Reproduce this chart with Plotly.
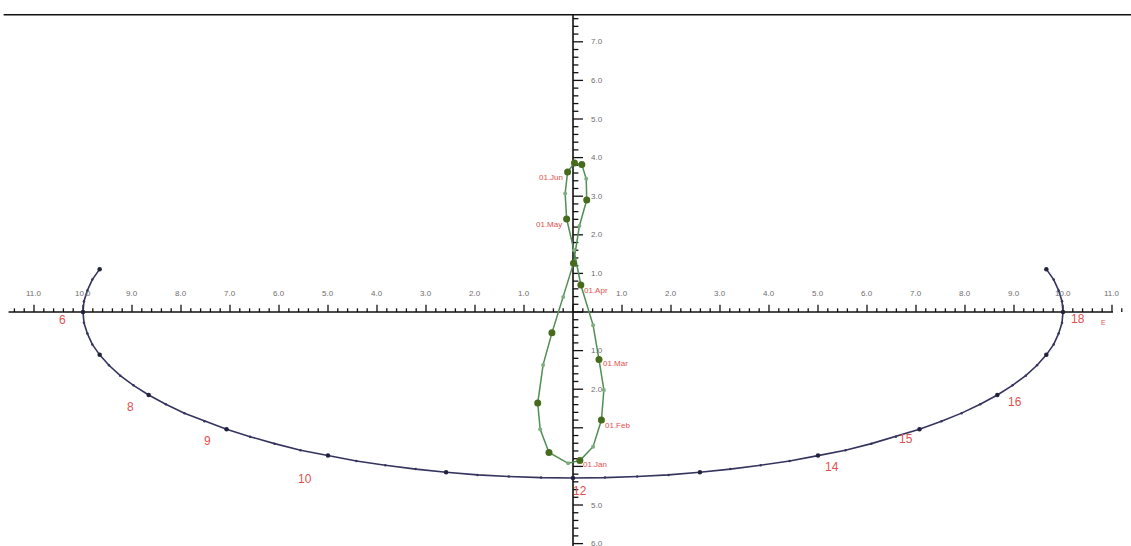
import plotly.graph_objects as go

# ---- shadow-tip path over the day, sampled every quarter hour (05:00 .. 19:00)
curve_x = [-9.66, -9.81, -9.91, -9.98, -10.0, -9.98, -9.91, -9.81, -9.66, -9.47, -9.24, -8.97,
           -8.66, -8.31, -7.93, -7.52, -7.07, -6.59, -6.09, -5.56, -5.0, -4.42, -3.83, -3.21,
           -2.59, -1.95, -1.31, -0.65, 0.0, 0.65, 1.31, 1.95, 2.59, 3.21, 3.83, 4.42,
           5.0, 5.56, 6.09, 6.59, 7.07, 7.52, 7.93, 8.31, 8.66, 8.97, 9.24, 9.47,
           9.66, 9.81, 9.91, 9.98, 10.0, 9.98, 9.91, 9.81, 9.66]
curve_y = [1.11, 0.84, 0.56, 0.28, 0.0, -0.28, -0.56, -0.84, -1.11, -1.38, -1.65, -1.90,
           -2.15, -2.39, -2.62, -2.83, -3.04, -3.23, -3.41, -3.58, -3.72, -3.86, -3.97, -4.07,
           -4.15, -4.22, -4.26, -4.29, -4.30, -4.29, -4.26, -4.22, -4.15, -4.07, -3.97, -3.86,
           -3.72, -3.58, -3.41, -3.23, -3.04, -2.83, -2.62, -2.39, -2.15, -1.90, -1.65, -1.38,
           -1.11, -0.84, -0.56, -0.28, 0.0, 0.28, 0.56, 0.84, 1.11]

# hour numbers written beside the path
hour_labels = ["6", "8", "9", "10", "12", "14", "15", "16", "18"]
hour_label_x = [-10.41, -9.04, -7.45, -5.47, 0.14, 5.29, 6.80, 9.02, 10.31]
hour_label_y = [-0.21, -2.46, -3.34, -4.33, -4.64, -4.02, -3.29, -2.33, -0.18]

# ---- noon analemma, 1st and mid-month positions
ana_dates = ["01.Jan", "15.Jan", "01.Feb", "15.Feb", "01.Mar", "15.Mar", "01.Apr", "15.Apr",
             "01.May", "15.May", "01.Jun", "21.Jun", "01.Jul", "15.Jul", "01.Aug", "15.Aug",
             "01.Sep", "15.Sep", "01.Oct", "15.Oct", "01.Nov", "15.Nov", "01.Dec", "15.Dec",
             "01.Jan"]
ana_x = [0.14, 0.41, 0.58, 0.63, 0.53, 0.41, 0.16, 0.02,
         -0.13, -0.16, -0.11, 0.03, 0.18, 0.27, 0.28, 0.13,
         0.01, -0.20, -0.43, -0.61, -0.72, -0.67, -0.49, -0.10,
         0.14]
ana_y = [-3.85, -3.49, -2.80, -2.02, -1.23, -0.34, 0.70, 1.60,
         2.41, 3.07, 3.63, 3.86, 3.82, 3.45, 2.90, 2.23,
         1.26, 0.39, -0.54, -1.37, -2.36, -3.04, -3.64, -3.92,
         -3.85]
ana_big = ["01.Jan", "01.Feb", "01.Mar", "01.Apr", "01.May", "01.Jun", "21.Jun", "01.Jul",
           "01.Aug", "01.Sep", "01.Oct", "01.Nov", "01.Dec"]

# month captions
month_labels = ["01.Jan", "01.Feb", "01.Mar", "01.Apr", "01.May", "01.Jun"]
month_label_x = [0.45, 0.90, 0.86, 0.47, -0.49, -0.45]
month_label_y = [-3.96, -2.95, -1.34, 0.55, 2.28, 3.48]

# ---- scale labels
xtick_vals = [-11, -10, -9, -8, -7, -6, -5, -4, -3, -2, -1, 1, 2, 3, 4, 5, 6, 7, 8, 9, 10, 11]
xtick_text = ["11.0", "10.0", "9.0", "8.0", "7.0", "6.0", "5.0", "4.0", "3.0", "2.0", "1.0",
              "1.0", "2.0", "3.0", "4.0", "5.0", "6.0", "7.0", "8.0", "9.0", "10.0", "11.0"]
ytick_vals = [7, 6, 5, 4, 3, 2, 1, -1, -2, -5, -6]
ytick_text = ["7.0", "6.0", "5.0", "4.0", "3.0", "2.0", "1.0", "1.0", "2.0", "5.0", "6.0"]

X_RANGE = [-11.694, 11.388]
Y_RANGE = [-6.062, 8.083]
TOP_Y = 7.7

AXIS_COLOR = "#111111"
TICK_FONT = dict(family="Liberation Sans, Arial, sans-serif", size=8, color="#6e6e6e")
RED = "#e2504e"
CURVE_COLOR = "#34345f"
GREEN_LINE = "#4f8f52"
GREEN_DOT = "#476b1c"

fig = go.Figure()

# top border line and main axes
fig.add_trace(go.Scatter(x=[-11.62, X_RANGE[1]], y=[TOP_Y, TOP_Y], mode="lines",
                         line=dict(color=AXIS_COLOR, width=1.6), hoverinfo="skip"))
fig.add_trace(go.Scatter(x=[-11.52, 11.02], y=[0, 0], mode="lines",
                         line=dict(color=AXIS_COLOR, width=1.6), hoverinfo="skip"))
fig.add_trace(go.Scatter(x=[0, 0], y=[TOP_Y, Y_RANGE[0] - 0.2], mode="lines",
                         line=dict(color=AXIS_COLOR, width=1.6), hoverinfo="skip"))

# tick marks: horizontal scale ticks point up, vertical scale ticks point right
tx, ty = [], []
for i in range(-57, 57):
    v = i * 0.2
    major = (i % 5 == 0)
    h = 0.185 if major else 0.095
    tx += [v, v, None]
    ty += [0, h, None]
for i in range(-30, 39):
    v = i * 0.2
    if v > TOP_Y:
        continue
    major = (i % 5 == 0)
    w = 0.205 if major else 0.11
    tx += [0, w, None]
    ty += [v, v, None]
fig.add_trace(go.Scatter(x=tx, y=ty, mode="lines", line=dict(color=AXIS_COLOR, width=1.3),
                         hoverinfo="skip"))

# day path with quarter-hour and hourly dots
fig.add_trace(go.Scatter(x=curve_x, y=curve_y, mode="lines+markers",
                         line=dict(color=CURVE_COLOR, width=1.6),
                         marker=dict(size=2.5, color=CURVE_COLOR), hoverinfo="skip"))
fig.add_trace(go.Scatter(x=curve_x[::4], y=curve_y[::4], mode="markers",
                         marker=dict(size=4.5, color="#22223f"), hoverinfo="skip"))

# analemma
fig.add_trace(go.Scatter(x=ana_x, y=ana_y, mode="lines+markers",
                         line=dict(color=GREEN_LINE, width=1.5),
                         marker=dict(size=4, color="#7fae7f", symbol="circle"),
                         text=ana_dates, hoverinfo="text"))
big_x = [ana_x[ana_dates.index(d)] for d in ana_big]
big_y = [ana_y[ana_dates.index(d)] for d in ana_big]
fig.add_trace(go.Scatter(x=big_x, y=big_y, mode="markers",
                         marker=dict(size=7, color=GREEN_DOT), text=ana_big, hoverinfo="text"))

annotations = []
for v, t in zip(xtick_vals, xtick_text):
    annotations.append(dict(x=v, y=0.49, text=t, showarrow=False, font=TICK_FONT,
                            xanchor="center", yanchor="middle"))
for v, t in zip(ytick_vals, ytick_text):
    annotations.append(dict(x=0.49, y=v, text=t, showarrow=False, font=TICK_FONT,
                            xanchor="center", yanchor="middle"))
for t, x, y in zip(hour_labels, hour_label_x, hour_label_y):
    annotations.append(dict(x=x, y=y, text=t, showarrow=False,
                            font=dict(family="Liberation Sans, Arial, sans-serif", size=12, color=RED),
                            xanchor="center", yanchor="middle"))
for t, x, y in zip(month_labels, month_label_x, month_label_y):
    annotations.append(dict(x=x, y=y, text=t, showarrow=False,
                            font=dict(family="Liberation Sans, Arial, sans-serif", size=8, color=RED),
                            xanchor="center", yanchor="middle"))
annotations.append(dict(x=10.82, y=-0.26, text="E", showarrow=False,
                        font=dict(family="Liberation Sans, Arial, sans-serif", size=7, color=RED),
                        xanchor="center", yanchor="middle"))

fig.update_layout(
    width=1131, height=546,
    margin=dict(l=0, r=0, t=0, b=0),
    paper_bgcolor="white", plot_bgcolor="white",
    showlegend=False,
    xaxis=dict(range=X_RANGE, visible=False, fixedrange=True),
    yaxis=dict(range=Y_RANGE, visible=False, fixedrange=True),
    annotations=annotations,
)

fig.write_html("out.html")
